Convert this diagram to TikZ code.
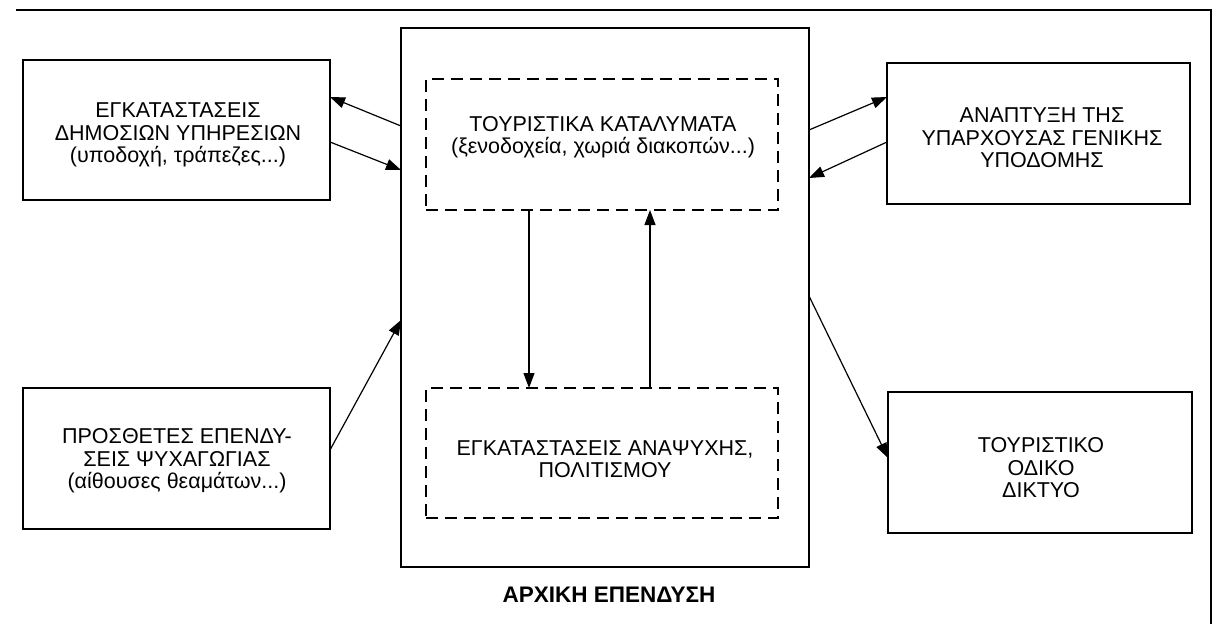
\documentclass[tikz,border=0pt]{standalone}
\usepackage{fontspec}
\setmainfont{Liberation Sans}
\usetikzlibrary{arrows.meta}
\begin{document}
\begin{tikzpicture}[x=1pt,y=-1pt,
  box/.style={draw, line width=1.6pt, inner sep=0pt, outer sep=0pt},
  dbox/.style={draw, line width=1.4pt, dash pattern=on 12pt off 7pt, inner sep=0pt, outer sep=0pt},
  txt/.style={align=center, inner sep=0pt, font=\fontsize{21.5}{22.5}\selectfont},
  arr/.style={line width=1.2pt, -{Triangle[length=15pt,width=11pt]}}]
\useasboundingbox (0,0) rectangle (1219,624);
% scan frame
\draw[line width=1.6pt] (16,10) -- (1211,10) -- (1211,624);
% boxes
\node[box, minimum width=408pt, minimum height=539pt] (main) at (605,297.5) {};
\node[dbox, minimum width=352pt, minimum height=131pt] (dtop) at (602,144.5) {};
\node[dbox, minimum width=352pt, minimum height=130pt] (dbot) at (602,453) {};
\node[box, minimum width=307pt, minimum height=140pt] (b1) at (176.5,130) {};
\node[box, minimum width=307pt, minimum height=141pt] (b2) at (176.5,458.5) {};
\node[box, minimum width=303pt, minimum height=141pt] (r1) at (1038.5,133.5) {};
\node[box, minimum width=304pt, minimum height=141pt] (r2) at (1040,462.5) {};
% texts
\node[txt] (b1t) at (178,135) {ΕΓΚΑΤΑΣΤΑΣΕΙΣ\\ΔΗΜΟΣΙΩΝ ΥΠΗΡΕΣΙΩΝ\\(υποδοχή, τράπεζες...)};
\node[txt] (b2t) at (177,461) {ΠΡΟΣΘΕΤΕΣ ΕΠΕΝΔΥ-\\ΣΕΙΣ ΨΥΧΑΓΩΓΙΑΣ\\(αίθουσες θεαμάτων...)};
\node[txt] (dtopt) at (603,137) {ΤΟΥΡΙΣΤΙΚΑ ΚΑΤΑΛΥΜΑΤΑ\\(ξενοδοχεία, χωριά διακοπών...)};
\node[txt] (dbott) at (605,459) {ΕΓΚΑΤΑΣΤΑΣΕΙΣ ΑΝΑΨΥΧΗΣ,\\ΠΟΛΙΤΙΣΜΟΥ};
\node[txt] (r1t) at (1042,138) {ΑΝΑΠΤΥΞΗ ΤΗΣ\\ΥΠΑΡΧΟΥΣΑΣ ΓΕΝΙΚΗΣ\\ΥΠΟΔΟΜΗΣ};
\node[txt] (r2t) at (1041,468) {ΤΟΥΡΙΣΤΙΚΟ\\ΟΔΙΚΟ\\ΔΙΚΤΥΟ};
\node[txt, font=\fontsize{22.5}{23}\selectfont\bfseries] (cap) at (609,595) {ΑΡΧΙΚΗ ΕΠΕΝΔΥΣΗ};
% connectors
\draw[arr] (main.west |- 0,126) -- (b1.east |- 0,97);
\draw[arr] (b1.east |- 0,142) -- (main.west |- 0,170);
\draw[arr] (main.east |- 0,130) -- (r1.west |- 0,97);
\draw[arr] (r1.west |- 0,142) -- (main.east |- 0,178);
\draw[arr] (b2.east |- 0,450) -- (main.west |- 0,320);
\draw[arr] (main.east |- 0,296) -- (r2.west |- 0,458);
\draw[arr] (dtop.south -| 529,0) -- (dbot.north -| 529,0);
\draw[arr] (dbot.north -| 650,0) -- (dtop.south -| 650,0);
\end{tikzpicture}
\end{document}
